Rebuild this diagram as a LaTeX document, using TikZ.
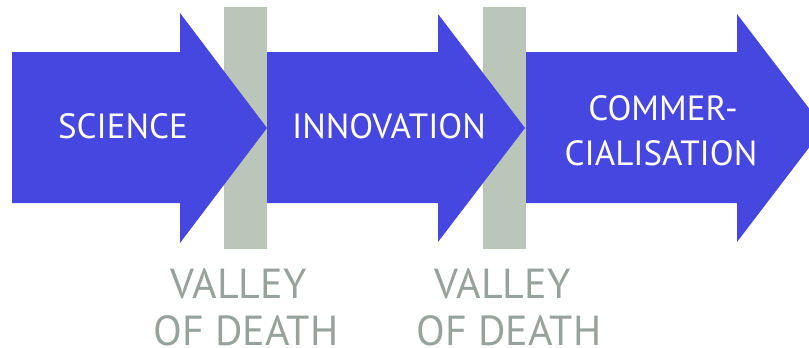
\documentclass[tikz,border=0pt]{standalone}
\usepackage{fontspec}
\setmainfont{PT Sans}
\definecolor{arrowblue}{RGB}{70,70,224}
\definecolor{valleybar}{RGB}{186,198,186}
\definecolor{valleytext}{RGB}{152,162,156}
\tikzset{
  flow/.style={fill=arrowblue, draw=none},
  valley/.style={fill=valleybar, draw=none},
  steplabel/.style={text=white, font=\fontsize{35}{40}\selectfont, inner sep=0pt, anchor=base},
  deathlabel/.style={text=valleytext, font=\fontsize{42}{46}\selectfont, inner sep=0pt, anchor=base}
}
\begin{document}
\begin{tikzpicture}[x=1pt, y=-1pt]
\useasboundingbox (0,0) rectangle (809,348);
\clip (0,0) rectangle (809,348);
% third arrow
\fill[flow] (526,52) -- (737,52) -- (737,14) -- (824,128) -- (737,242) -- (737,203) -- (526,203) -- cycle;
% second valley
\fill[valley] (483,7) rectangle (526,249);
% second arrow
\fill[flow] (267,52) -- (438,52) -- (438,14) -- (525,128) -- (438,242) -- (438,203) -- (267,203) -- cycle;
% first valley
\fill[valley] (224,7) rectangle (267,249);
% first arrow
\fill[flow] (12,52) -- (180,52) -- (180,13) -- (267,128) -- (180,243) -- (180,203) -- (12,203) -- cycle;
% labels
\node[steplabel] (science) at (123,138) {SCIENCE};
\node[steplabel] (innovation) at (389,138) {INNOVATION};
\node[steplabel] (commer) at (663,120) {COMMER-};
\node[steplabel] (cialisation) at (661,165) {CIALISATION};
\node[deathlabel] (valleyA) at (238.5,298) {VALLEY};
\node[deathlabel] (deathA) at (246,345) {OF DEATH};
\node[deathlabel] (valleyB) at (502.5,298) {VALLEY};
\node[deathlabel] (deathB) at (509,345) {OF DEATH};
\end{tikzpicture}
\end{document}
